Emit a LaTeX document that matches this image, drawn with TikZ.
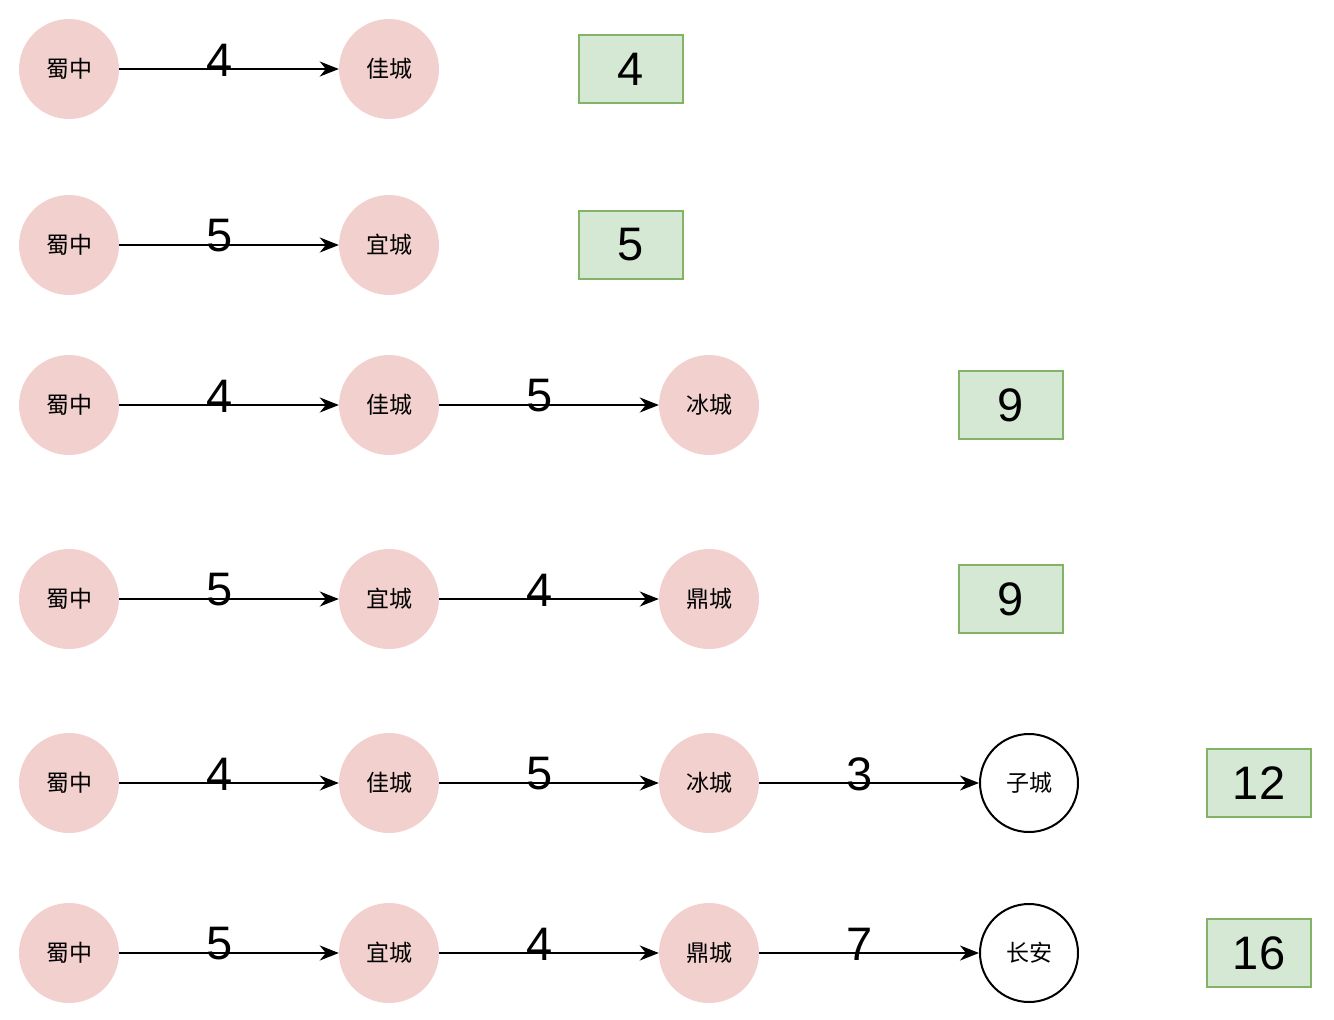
\documentclass[tikz,border=0pt]{standalone}
\usepackage{fontspec}
\setmainfont{Liberation Sans}
\newfontfamily\cjk{Noto Sans CJK SC}
\usetikzlibrary{arrows.meta}
\definecolor{city}{HTML}{F2D0CE}
\definecolor{sumfill}{HTML}{D5E8D4}
\definecolor{sumline}{HTML}{82B366}

\tikzset{
    city/.style={circle, fill=city, minimum size=100pt, inner sep=0pt, font=\cjk\fontsize{23}{23}\selectfont},
    goal/.style={circle, draw=black, line width=2pt, minimum size=98pt, inner sep=0pt, font=\cjk\fontsize{23}{23}\selectfont},
    total/.style={draw=sumline, fill=sumfill, line width=2pt, minimum width=104pt, minimum height=68pt, inner sep=0pt, font=\fontsize{47}{47}\selectfont},
    road/.style={draw=black, line width=2pt, -{Stealth[length=19pt, width=15pt, inset=6pt]}},
    weight/.style={font=\fontsize{47}{47}\selectfont, pos=0.455, yshift=9pt, inner sep=0pt},
}

\begin{document}
\begin{tikzpicture}[x=1pt, y=-1pt]
        \useasboundingbox (0,0) rectangle (1334,1020);

        % row 1
        \node[city] (a1) at (69,69) {蜀中};
        \node[city] (b1) at (389,69) {佳城};
        \node[total] (s1) at (631,69) {4};
        \draw[road] (a1) -- (b1) node[weight] {4};

        % row 2
        \node[city] (a2) at (69,245) {蜀中};
        \node[city] (b2) at (389,245) {宜城};
        \node[total] (s2) at (631,245) {5};
        \draw[road] (a2) -- (b2) node[weight] {5};

        % row 3
        \node[city] (a3) at (69,405) {蜀中};
        \node[city] (b3) at (389,405) {佳城};
        \node[city] (c3) at (709,405) {冰城};
        \node[total] (s3) at (1011,405) {9};
        \draw[road] (a3) -- (b3) node[weight] {4};
        \draw[road] (b3) -- (c3) node[weight] {5};

        % row 4
        \node[city] (a4) at (69,599) {蜀中};
        \node[city] (b4) at (389,599) {宜城};
        \node[city] (c4) at (709,599) {鼎城};
        \node[total] (s4) at (1011,599) {9};
        \draw[road] (a4) -- (b4) node[weight] {5};
        \draw[road] (b4) -- (c4) node[weight] {4};

        % row 5
        \node[city] (a5) at (69,783) {蜀中};
        \node[city] (b5) at (389,783) {佳城};
        \node[city] (c5) at (709,783) {冰城};
        \node[goal] (d5) at (1029,783) {子城};
        \node[total] (s5) at (1259,783) {12};
        \draw[road] (a5) -- (b5) node[weight] {4};
        \draw[road] (b5) -- (c5) node[weight] {5};
        \draw[road] (c5) -- (d5) node[weight] {3};

        % row 6
        \node[city] (a6) at (69,953) {蜀中};
        \node[city] (b6) at (389,953) {宜城};
        \node[city] (c6) at (709,953) {鼎城};
        \node[goal] (d6) at (1029,953) {长安};
        \node[total] (s6) at (1259,953) {16};
        \draw[road] (a6) -- (b6) node[weight] {5};
        \draw[road] (b6) -- (c6) node[weight] {4};
        \draw[road] (c6) -- (d6) node[weight] {7};
\end{tikzpicture}
\end{document}
